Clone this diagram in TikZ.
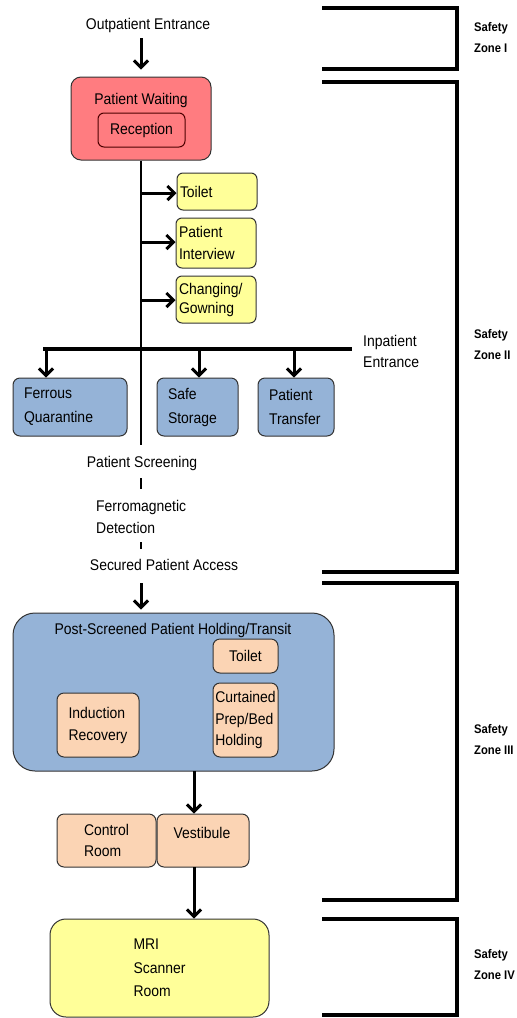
\documentclass[tikz,border=0pt]{standalone}
\usepackage{fontspec}
\setmainfont{Liberation Sans}[FakeStretch=0.9]
\usetikzlibrary{arrows.meta}
\definecolor{mri_red}{RGB}{255,124,128}
\definecolor{mri_yellow}{RGB}{255,255,153}
\definecolor{mri_blue}{RGB}{149,179,215}
\definecolor{mri_peach}{RGB}{251,212,180}
\tikzstyle{box}=[rectangle,draw=black!80,line width=1pt,inner sep=2pt,
  font=\fontsize{15.5}{22}\selectfont]
\tikzstyle{rb}=[box,fill=mri_red,rounded corners=10pt]
\tikzstyle{yb}=[box,fill=mri_yellow,rounded corners=6pt,align=left,inner xsep=3pt]
\tikzstyle{bb}=[box,fill=mri_blue,rounded corners=7pt,align=left,inner xsep=11pt,
  font=\fontsize{15.5}{24}\selectfont]
\tikzstyle{pb}=[box,fill=mri_peach,rounded corners=7pt,align=left]
\tikzstyle{txt}=[inner sep=1pt,font=\fontsize{15.5}{21}\selectfont]
\tikzstyle{zl}=[inner sep=0pt,anchor=west,align=left,font=\bfseries\fontsize{12.5}{21}\selectfont]
\tikzstyle{spine}=[line width=2.2pt]
\tikzstyle{branch}=[line width=3.5pt]
\tikzstyle{arr}=[line width=3pt,-{Straight Barb[length=7pt,width=14pt]}]
\tikzstyle{zone}=[line width=4pt,line join=miter]

\begin{document}
\begin{tikzpicture}[x=1pt,y=-1pt]
    \useasboundingbox (0,0) rectangle (517,1018);
    % zone I
    \node [style=txt] (outpat) at (148,25) {Outpatient Entrance};
    % zone II
    \node [style=rb, minimum width=140pt, minimum height=83pt] (waiting) at (141,118.5) {};
    \node [style=txt] (waitlbl) at (141,100) {Patient Waiting};
    \node [style=rb, draw=black!70!red, rounded corners=6pt,
      minimum width=87pt, minimum height=34pt] (reception) at (141.5,130) {Reception};
    \node [style=yb, text width=74pt, minimum height=37pt] (toilet) at (217,191.5) {Toilet};
    \node [style=yb, text width=74pt, minimum height=50pt] (interview) at (216,243) {Patient\\Interview};
    \node [style=yb, text width=74pt, minimum height=47pt, font=\fontsize{15.5}{19}\selectfont]
      (gowning) at (216,299.5) {Changing/\\Gowning};
    \node [style=bb, text width=92pt, minimum height=58pt] (ferrous) at (70,407) {Ferrous\\Quarantine};
    \node [style=bb, text width=59pt, minimum height=58pt] (storage) at (197.5,407) {Safe\\Storage};
    \node [style=bb, text width=54pt, minimum height=58pt] (transfer) at (296,407) {Patient\\Transfer};
    \node [style=txt, anchor=west, align=left] (inpat) at (362,351.5) {Inpatient\\Entrance};
    \node [style=txt] (screening) at (142,463) {Patient Screening};
    \node [style=txt, anchor=west, align=left, font=\fontsize{15.5}{22}\selectfont]
      (ferro) at (95,517) {Ferromagnetic\\Detection};
    \node [style=txt] (secured) at (164,565) {Secured Patient Access};
    % zone III
    \node [style=bb, rounded corners=22pt, minimum width=321pt, minimum height=158pt] (holding) at (173.5,692) {};
    \node [style=txt] (holdlbl) at (173,630) {Post-Screened Patient Holding/Transit};
    \node [style=pb, minimum width=65pt, minimum height=34pt] (toiletb) at (245.5,656) {Toilet};
    \node [style=pb, minimum width=65pt, minimum height=74pt, font=\fontsize{15.5}{21.5}\selectfont]
      (curtained) at (245.5,720) {Curtained\\Prep/Bed\\Holding};
    \node [style=pb, minimum width=82pt, minimum height=64pt] (induction) at (98,725) {Induction\\Recovery};
    \node [style=pb, minimum width=99pt, minimum height=53pt, font=\fontsize{15.5}{21}\selectfont]
      (control) at (106.5,840.5) {Control\\Room};
    \node [style=pb, minimum width=92pt, minimum height=53pt] (vestibule) at (203,840.5) {};
    \node [style=txt] (vestlbl) at (202,833) {Vestibule};
    % zone IV
    \node [style=yb, inner xsep=2pt, rounded corners=16pt, minimum width=219pt, minimum height=98pt,
      font=\fontsize{15.5}{23.5}\selectfont] (scanner) at (159.5,968) {MRI\\Scanner\\Room};

    \coordinate (in1) at (141,38);
    \coordinate (s1) at (141,193);
    \coordinate (s2) at (141,242);
    \coordinate (s3) at (141,300);
    \coordinate (spinend) at (141,445);
    \coordinate (bl) at (43,349);
    \coordinate (br) at (352,349);
    \coordinate (b1) at (46,349);
    \coordinate (b2) at (199,349);
    \coordinate (b3) at (294,349);
    \coordinate (d1) at (141,478);
    \coordinate (d2) at (141,489);
    \coordinate (d3) at (141,542);
    \coordinate (d4) at (141,549);
    \coordinate (a1) at (141,583);
    \coordinate (c1) at (194,771);
    \coordinate (c2) at (194,867);

    \draw [style=arr] (in1) to ([yshift=7pt]waiting.north);
    \draw [style=spine] (waiting.south) to (spinend);
    \draw [style=arr] (s1) to (s1 -| toilet.west);
    \draw [style=arr] (s2) to (s2 -| interview.west);
    \draw [style=arr] (s3) to (s3 -| gowning.west);
    \draw [style=branch] (bl) to (br);
    \draw [style=arr] (b1) to (b1 |- ferrous.north);
    \draw [style=arr] (b2) to (b2 |- storage.north);
    \draw [style=arr] (b3) to (b3 |- transfer.north);
    \draw [style=spine, line width=2.5pt] (d1) to (d2);
    \draw [style=spine, line width=2.5pt] (d3) to (d4);
    \draw [style=arr] (a1) to ([yshift=3pt]a1 |- holding.north);
    \draw [style=arr] (c1) to (c1 |- vestibule.north);
    \draw [style=arr] (c2) to (c2 |- scanner.north);

    % safety zone brackets
    \draw [style=zone] (322,8) -- (457,8) -- (457,69) -- (322,69);
    \draw [style=zone] (322,82) -- (457,82) -- (457,572) -- (322,572);
    \draw [style=zone] (322,583) -- (457,583) -- (457,900) -- (322,900);
    \draw [style=zone] (322,919) -- (457,919) -- (457,1015) -- (322,1015);
    \node [style=zl] (zone1) at (474,38) {Safety\\Zone I};
    \node [style=zl] (zone2) at (474,345) {Safety\\Zone II};
    \node [style=zl] (zone3) at (474,740) {Safety\\Zone III};
    \node [style=zl] (zone4) at (474,964.5) {Safety\\Zone IV};
\end{tikzpicture}
\end{document}
